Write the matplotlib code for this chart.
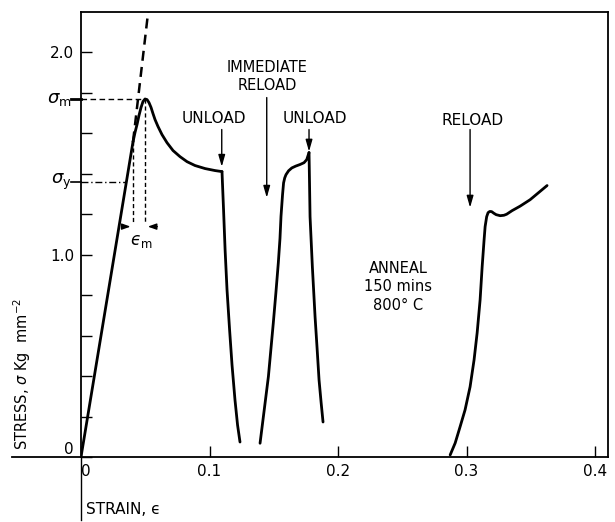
"""
Stress-strain curve with unload / immediate reload / anneal-reload cycles.
Values read off the scanned figure.
"""
import matplotlib
matplotlib.use('Agg')
import matplotlib.pyplot as plt

# ── Data (strain, stress in Kg mm^-2) ─────────────────────────────
elastic_strain = [0.0, 0.0405]
elastic_stress = [0.0, 1.56]

# extrapolated elastic line (dashed)
tangent_strain = [0.0405, 0.0550]
tangent_stress = [1.56, 2.35]

first_strain = [0.0405, 0.0420, 0.0436, 0.0451, 0.0467, 0.0482, 0.0498,
                0.0514, 0.0529, 0.0545, 0.0560, 0.0576, 0.0599, 0.0630,
                0.0669, 0.0716, 0.0770, 0.0825, 0.0887, 0.0965, 0.1043,
                0.1097]
first_stress = [1.559, 1.604, 1.644, 1.688, 1.728, 1.757, 1.770,
                1.767, 1.752, 1.728, 1.698, 1.668, 1.634, 1.594,
                1.554, 1.515, 1.485, 1.460, 1.441, 1.426, 1.416,
                1.411]

unload1_strain = [0.1097, 0.1101, 0.1109, 0.1121, 0.1136, 0.1156, 0.1175,
                  0.1198, 0.1218, 0.1237]
unload1_stress = [1.411, 1.347, 1.223, 1.025, 0.827, 0.629, 0.455,
                  0.282, 0.158, 0.074]

reload1_strain = [0.1393, 0.1419, 0.1458, 0.1496, 0.1516, 0.1535, 0.1548,
                  0.1556, 0.1568, 0.1576, 0.1585, 0.1595, 0.1615, 0.1640,
                  0.1670, 0.1704, 0.1735, 0.1756, 0.1774]
reload1_stress = [0.068, 0.200, 0.398, 0.662, 0.810, 0.959, 1.080,
                  1.190, 1.297, 1.355, 1.380, 1.396, 1.415, 1.429,
                  1.438, 1.446, 1.455, 1.470, 1.505]

unload2_strain = [0.1774, 0.1778, 0.1782, 0.1800, 0.1821, 0.1837, 0.1852,
                  0.1868, 0.1883]
unload2_stress = [1.505, 1.350, 1.188, 0.940, 0.693, 0.535, 0.381,
                  0.270, 0.173]

reload2_strain = [0.2872, 0.2911, 0.2949, 0.2988, 0.3027, 0.3058, 0.3082,
                  0.3105, 0.3121, 0.3136, 0.3144, 0.3156, 0.3167, 0.3180,
                  0.3195, 0.3212, 0.3230, 0.3261, 0.3290, 0.3311, 0.3354,
                  0.3416, 0.3494, 0.3626]
reload2_stress = [0.010, 0.069, 0.149, 0.233, 0.347, 0.480, 0.614,
                  0.777, 0.941, 1.074, 1.139, 1.188, 1.208, 1.214,
                  1.213, 1.205, 1.198, 1.193, 1.195, 1.200, 1.218,
                  1.240, 1.272, 1.342]

sigma_m = 1.772
sigma_y = 1.361
sigma_y_strain = 0.0353      # where sigma_y meets the elastic line
eps_m_left = 0.0407
eps_m_right = 0.0498

x_ticks = [0.0, 0.1, 0.2, 0.3, 0.4]
x_labels = ['0', '0.1', '0.2', '0.3', '0.4']
y_ticks = [0.0, 0.2, 0.4, 0.6, 0.8, 1.0, 1.2, 1.4, 1.6, 1.8, 2.0]
y_labels = ['0', '', '', '', '', '1.0', '', '', '', '', '2.0']

# ── Figure ────────────────────────────────────────────────────────
plt.rcParams['font.family'] = ['DejaVu Sans']
fig = plt.figure(figsize=(6.15, 5.22), dpi=100)
ax = fig.add_axes([81 / 615, 65 / 522, 527 / 615, 445 / 522])
ax.set_xlim(0, 0.41)
ax.set_ylim(0, 2.2)

for s in ax.spines.values():
    s.set_linewidth(1.3)

ax.set_xticks(x_ticks)
ax.set_xticklabels(x_labels, fontsize=11)
ax.set_yticks(y_ticks)
ax.set_yticklabels(y_labels, fontsize=11)
ax.tick_params(direction='in', length=8, width=1.0, pad=5)
ax.get_xticklabels()[0].set_horizontalalignment('left')
ax.get_yticklabels()[0].set_verticalalignment('bottom')

# axis lines run past the origin
ax.plot([-0.054, 0], [0, 0], color='black', lw=1.3, clip_on=False)
ax.plot([0, 0], [0, -0.31], color='black', lw=1.0, clip_on=False)

curve = dict(color='black', lw=2.0, solid_joinstyle='round',
             solid_capstyle='round')
ax.plot(elastic_strain, elastic_stress, **curve)
ax.plot(tangent_strain, tangent_stress, color='black', lw=1.8,
        linestyle=(0, (4, 2.5)))
ax.plot(first_strain, first_stress, **curve)
ax.plot(unload1_strain, unload1_stress, **curve)
ax.plot(reload1_strain, reload1_stress, **curve)
ax.plot(unload2_strain, unload2_stress, **curve)
ax.plot(reload2_strain, reload2_stress, **curve)

# sigma_m / sigma_y guides
ax.plot([0, eps_m_right], [sigma_m, sigma_m], color='black', lw=1.0,
        linestyle=(0, (4, 2.5)))
ax.plot([0, sigma_y_strain], [sigma_y, sigma_y], color='black', lw=1.0,
        linestyle=(0, (5, 2, 1, 2)))
ax.plot([-0.008, 0], [sigma_m, sigma_m], color='black', lw=2.0, clip_on=False)
ax.plot([-0.008, 0], [sigma_y, sigma_y], color='black', lw=1.2, clip_on=False)
ax.text(-0.0075, sigma_m, r'$\sigma_{\rm m}$', fontsize=13, ha='right',
        va='center')
ax.text(-0.0075, sigma_y, r'$\sigma_{\rm y}$', fontsize=13, ha='right',
        va='center')

# epsilon_m marker
ax.plot([eps_m_left, eps_m_left], [1.56, 1.15], color='black', lw=1.0,
        linestyle=(0, (3, 2)))
ax.plot([eps_m_right, eps_m_right], [1.77, 1.15], color='black', lw=1.0,
        linestyle=(0, (3, 2)))
arr_small = dict(arrowstyle='-|>,head_length=0.5,head_width=0.18',
                 color='black', lw=1.0)
ax.annotate('', xy=(eps_m_left, 1.139), xytext=(0.0300, 1.139),
            arrowprops=arr_small)
ax.annotate('', xy=(eps_m_right, 1.139), xytext=(0.0615, 1.139),
            arrowprops=arr_small)
ax.text(0.0470, 1.07, '$\u03f5_{\\rm m}$', fontsize=12, ha='center',
        va='center')

# annotations
arr = dict(arrowstyle='-|>,head_length=0.7,head_width=0.2',
           color='black', lw=1.0, shrinkA=0, shrinkB=0)
ax.annotate('', xy=(0.1095, 1.435), xytext=(0.1095, 1.619), arrowprops=arr)
ax.text(0.1035, 1.673, 'UNLOAD', ha='center', va='center', fontsize=11)
ax.annotate('', xy=(0.1445, 1.282), xytext=(0.1445, 1.777), arrowprops=arr)
ax.text(0.1447, 1.881, 'IMMEDIATE\nRELOAD', ha='center', va='center',
        fontsize=10.5, linespacing=1.25)
ax.annotate('', xy=(0.1774, 1.51), xytext=(0.1774, 1.619), arrowprops=arr)
ax.text(0.1821, 1.673, 'UNLOAD', ha='center', va='center', fontsize=11)
ax.annotate('', xy=(0.3027, 1.233), xytext=(0.3027, 1.619), arrowprops=arr)
ax.text(0.3043, 1.663, 'RELOAD', ha='center', va='center', fontsize=11)
ax.text(0.2467, 0.842, 'ANNEAL\n150 mins\n800° C', ha='center',
        va='center', fontsize=10.5, linespacing=1.3)

fig.text(22 / 615, (522 - 450) / 522, r'STRESS, $\sigma$ Kg  mm$^{-2}$',
         rotation=90, ha='center', va='bottom', fontsize=10.5)
fig.text(86 / 615, 1 - 509 / 522, 'STRAIN, \u03f5', ha='left',
         va='center', fontsize=11)

fig.savefig('out.png', dpi=100)
